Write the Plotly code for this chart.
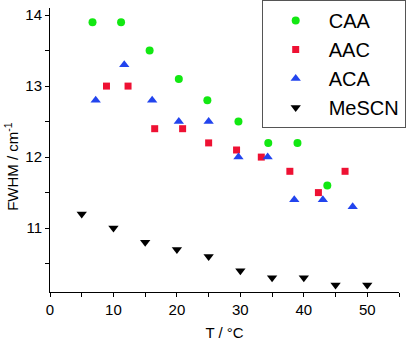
import plotly.graph_objects as go

caa_x = [6.7, 11.2, 15.7, 20.3, 24.8, 29.7, 34.4, 39.0, 43.7]
caa_y = [13.9, 13.9, 13.5, 13.1, 12.8, 12.5, 12.2, 12.2, 11.6]

aac_x = [8.9, 12.3, 16.5, 20.9, 25.0, 29.4, 33.3, 37.8, 42.3, 46.5]
aac_y = [13.0, 13.0, 12.4, 12.4, 12.2, 12.1, 12.0, 11.8, 11.5, 11.8]

aca_x = [7.2, 11.7, 16.1, 20.3, 25.0, 29.7, 34.3, 38.5, 43.0, 47.7]
aca_y = [12.8, 13.3, 12.8, 12.5, 12.5, 12.0, 12.0, 11.4, 11.4, 11.3]

mescn_x = [5, 10, 15, 20, 25, 30, 35, 40, 45, 50]
mescn_y = [11.2, 11.0, 10.8, 10.7, 10.6, 10.4, 10.3, 10.3, 10.2, 10.2]

x_ticks = [0, 10, 20, 30, 40, 50]
y_ticks = [11, 12, 13, 14]

fig = go.Figure()
fig.add_trace(go.Scatter(x=caa_x, y=caa_y, mode="markers", name="CAA",
                         marker=dict(symbol="circle", size=8, color="#12e812")))
fig.add_trace(go.Scatter(x=aac_x, y=aac_y, mode="markers", name="AAC",
                         marker=dict(symbol="square", size=7, color="#ee1133")))
fig.add_trace(go.Scatter(x=aca_x, y=aca_y, mode="markers", name="ACA",
                         marker=dict(symbol="triangle-up", size=9, color="#2244ee")))
fig.add_trace(go.Scatter(x=mescn_x, y=mescn_y, mode="markers", name="MeSCN",
                         marker=dict(symbol="triangle-down", size=9, color="black")))

font = "Liberation Sans, Arial, sans-serif"
fig.update_layout(
    width=407, height=341,
    margin=dict(l=50, r=8, t=8, b=49, autoexpand=False),
    plot_bgcolor="white", paper_bgcolor="white",
    font=dict(family=font, size=15, color="black"),
    showlegend=True,
    legend=dict(xref="container", yref="container", x=0.643, y=1.0,
                xanchor="left", yanchor="top",
                bgcolor="white", bordercolor="#555555", borderwidth=1,
                font=dict(size=20, family=font), itemwidth=56,
                tracegroupgap=0),
    xaxis=dict(range=[0, 55], tickvals=x_ticks, showgrid=False, zeroline=False,
               showline=True, linecolor="black", linewidth=1,
               ticks="outside", ticklen=4, tickcolor="black",
               minor=dict(dtick=5, tick0=0, ticks="outside", ticklen=4, tickcolor="black"),
               title=dict(text="T / °C", standoff=10, font=dict(size=15))),
    yaxis=dict(range=[10.1, 14.1], tickvals=y_ticks, showgrid=False, zeroline=False,
               showline=True, linecolor="black", linewidth=1,
               ticks="outside", ticklen=4, tickcolor="black",
               minor=dict(dtick=0.5, tick0=0, ticks="outside", ticklen=4, tickcolor="black")),
    annotations=[dict(text="FWHM / cm<sup>-1</sup>", textangle=-90,
                      xref="paper", yref="paper", x=-0.109, y=0.444,
                      xanchor="center", yanchor="middle", showarrow=False,
                      font=dict(size=15, family=font))],
)

fig.write_html("out.html", config={"displayModeBar": False},
               post_script="document.body.style.margin='0';document.body.style.overflow='hidden';")
